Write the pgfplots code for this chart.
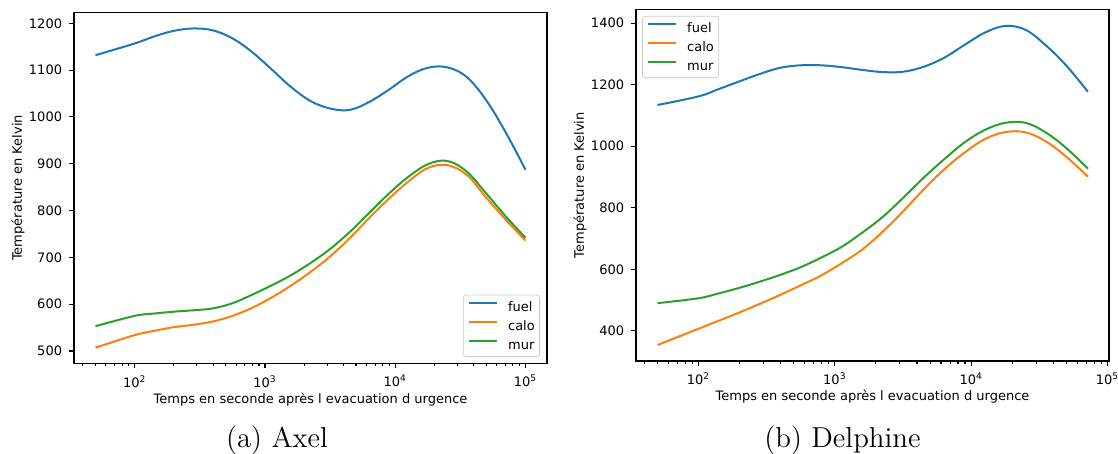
\documentclass[border=0pt]{standalone}
\usepackage{fontspec}
\newfontfamily\dv{DejaVu Sans}
\usepackage{pgfplots}
\usepackage{pgfplotstable}
\pgfplotsset{compat=1.18}

\definecolor{cfuel}{HTML}{1F77B4}
\definecolor{ccalo}{HTML}{FF7F0E}
\definecolor{cmur}{HTML}{2CA02C}

\newcommand\mplfont{\fontsize{6.5}{7.8}\dv}

% Axel: time [s], fuel, calo, mur
\pgfplotstableread{
t      fuel  calo  mur
50     1132  507   553
100    1157  534   575
141    1172  543   580
200    1184  551   584
282    1189  556   587
398    1185  563   591
562    1168  575   602
794    1139  592   620
1122   1102  614   640
1585   1064  640   662
2239   1034  669   688
3162   1018  702   718
4467   1015  741   754
6310   1032  784   795
8913   1058  825   836
12589  1087  862   872
17783  1105  891   899
25119  1106  897   906
35481  1085  876   883
50119  1035  827   836
70795  966   780   787
100000 887   736   742
}\axel

% Delphine: time [s], fuel, calo, mur
\pgfplotstableread{
t      fuel  calo  mur
50     1134  354   490
100    1162  407   506
141    1186  433   522
200    1211  460   540
282    1235  488   560
398    1255  517   582
562    1263  548   607
794    1263  580   638
1122   1257  620   673
1585   1248  664   719
2239   1241  722   770
3162   1242  788   832
4467   1258  859   897
6310   1287  924   957
8913   1329  979   1012
12589  1369  1023  1053
17783  1391  1046  1076
25119  1378  1045  1076
35481  1327  1015  1044
50119  1261  965   993
71800  1177  901   927
}\delphine

\begin{document}
\begin{tikzpicture}

% (a) Axel
\begin{axis}[
  at={(37pt,-181.65pt)}, anchor=south west,
  width=236.5pt, height=175.3pt, scale only axis,
  xmode=log, log basis x=10,
  xmin=34.2, xmax=146200, ymin=473.7, ymax=1222.7,
  ytick={500,600,700,800,900,1000,1100,1200},
  tick align=outside, tick pos=left,
  major tick length=2.45pt, minor tick length=1.4pt,
  tick style={line width=0.55pt, black},
  axis line style={line width=0.55pt},
  scaled y ticks=false,
  /pgf/number format/assume math mode=true,
  /pgf/number format/1000 sep={},
  tick label style={font=\mplfont},
  xticklabel={\pgfmathparse{int(round(\tick))}10\textsuperscript{\pgfmathresult}},
  label style={font=\mplfont},
  xlabel={Temps en seconde après l evacuation d urgence},
  ylabel={Température en Kelvin},
  xlabel style={at={(axis description cs:0.5,0)}, anchor=base, yshift=-19.85pt},
  ylabel style={at={(axis description cs:-0.1184,0.5)}, anchor=center},
  legend cell align=left,
  legend image code/.code={\draw[#1, line width=1pt] (0pt,1.9pt) -- (14pt,1.9pt);},
  legend style={font=\mplfont, draw=black!20, fill=white, rounded corners=1.5pt,
    inner xsep=2.4pt, inner ysep=3.3pt, row sep=4.6pt, column sep=5pt,
    nodes={inner sep=0pt, text height=4.8pt, text depth=0.2pt},
    at={(axis description cs:1,0)}, anchor=south east, xshift=-3.5pt, yshift=3.2pt},
]
\addplot[cfuel, line width=1pt, smooth, tension=0.6] table[x=t, y=fuel] {\axel};
\addlegendentry{fuel}
\addplot[ccalo, line width=1pt, smooth, tension=0.6] table[x=t, y=calo] {\axel};
\addlegendentry{calo}
\addplot[cmur, line width=1pt, smooth, tension=0.6] table[x=t, y=mur] {\axel};
\addlegendentry{mur}
\end{axis}

% (b) Delphine
\begin{axis}[
  at={(318pt,-180.5pt)}, anchor=south west,
  width=236.5pt, height=175.85pt, scale only axis,
  xmode=log, log basis x=10,
  xmin=34.75, xmax=102600, ymin=302, ymax=1445,
  ytick={400,600,800,1000,1200,1400},
  tick align=outside, tick pos=left,
  major tick length=2.45pt, minor tick length=1.4pt,
  tick style={line width=0.55pt, black},
  axis line style={line width=0.55pt},
  scaled y ticks=false,
  /pgf/number format/assume math mode=true,
  /pgf/number format/1000 sep={},
  tick label style={font=\mplfont},
  xticklabel={\pgfmathparse{int(round(\tick))}10\textsuperscript{\pgfmathresult}},
  label style={font=\mplfont},
  xlabel={Temps en seconde après l evacuation d urgence},
  ylabel={Température en Kelvin},
  xlabel style={at={(axis description cs:0.5,0)}, anchor=base, yshift=-19.85pt},
  ylabel style={at={(axis description cs:-0.1184,0.5)}, anchor=center},
  legend cell align=left,
  legend image code/.code={\draw[#1, line width=1pt] (0pt,1.9pt) -- (14pt,1.9pt);},
  legend style={font=\mplfont, draw=black!20, fill=white, rounded corners=1.5pt,
    inner xsep=2.4pt, inner ysep=3.3pt, row sep=4.6pt, column sep=5pt,
    nodes={inner sep=0pt, text height=4.8pt, text depth=0.2pt},
    at={(axis description cs:0,1)}, anchor=north west, xshift=3pt, yshift=-3.3pt},
]
\addplot[cfuel, line width=1pt, smooth, tension=0.6] table[x=t, y=fuel] {\delphine};
\addlegendentry{fuel}
\addplot[ccalo, line width=1pt, smooth, tension=0.6] table[x=t, y=calo] {\delphine};
\addlegendentry{calo}
\addplot[cmur, line width=1pt, smooth, tension=0.6] table[x=t, y=mur] {\delphine};
\addlegendentry{mur}
\end{axis}

\node[anchor=base, font=\fontsize{14.4}{17}\selectfont] at (138.5pt,-223.5pt) {(a) Axel};
\node[anchor=base, font=\fontsize{14.4}{17}\selectfont] at (421.25pt,-223.5pt) {(b) Delphine};

\pgfresetboundingbox
\path (0pt,0pt) rectangle (559pt,-227pt);
\end{tikzpicture}
\end{document}
